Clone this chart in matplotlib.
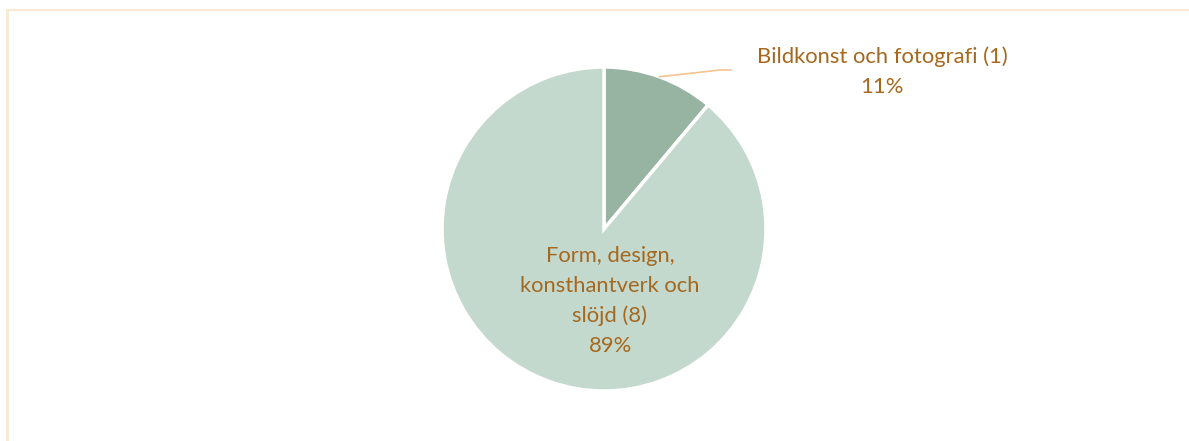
import numpy as np
import matplotlib
matplotlib.use('Agg')
import matplotlib.pyplot as plt

# Slice data
categories = ['Bildkonst och fotografi', 'Form, design,\nkonsthantverk och\nslöjd']
counts = [1, 8]
colors = ['#97B3A2', '#C4D9CD']

W, H = 1189, 441
text_color = '#A5681F'
plt.rcParams['font.family'] = ['Lato', 'DejaVu Sans']

fig = plt.figure(figsize=(W / 100, H / 100), dpi=100)
ax = fig.add_axes([0, 0, 1, 1])

cx, cy, r = 604, H - 229, 162
wedges, _ = ax.pie(counts, colors=colors, startangle=90, counterclock=False,
                   center=(cx, cy), radius=r, frame=True,
                   wedgeprops=dict(edgecolor='white', linewidth=2.5))
ax.set_xlim(0, W)
ax.set_ylim(0, H)
ax.set_aspect('equal')
ax.axis('off')

total = sum(counts)
pcts = [round(100 * c / total) for c in counts]

# Outside label for the small slice, with leader line
w0 = wedges[0]
mid = np.deg2rad((w0.theta1 + w0.theta2) / 2)
ex, ey = cx + r * np.cos(mid), cy + r * np.sin(mid)
ax.plot([ex, 720, 731], [ey, H - 70, H - 70], color='#F3C48E', lw=1.2)
ax.text(882, H - 57, f'{categories[0]} ({counts[0]})', ha='center', va='center',
        fontsize=15.8, color=text_color)
ax.text(882, H - 87, f'{pcts[0]}%', ha='center', va='center',
        fontsize=15.8, color=text_color)

# Inside label for the large slice
ax.text(610, H - 301, f'{categories[1]} ({counts[1]})\n{pcts[1]}%', ha='center',
        va='center', fontsize=15.8, color=text_color, linespacing=1.6)

# Chart frame (top and left edges)
ax.plot([7, W], [H - 9.5, H - 9.5], color='#FBE8D1', lw=1.5, clip_on=False)
ax.plot([7, 7], [H - 9.5, 0], color='#FBE8D1', lw=2, clip_on=False)

fig.savefig('out.png', dpi=100)
